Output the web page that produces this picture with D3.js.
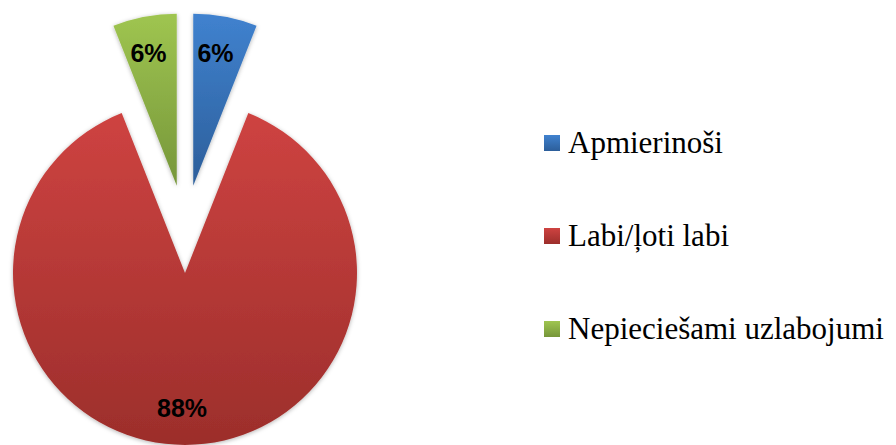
<!DOCTYPE html>
<html><head><meta charset="utf-8">
<script src="https://cdn.jsdelivr.net/npm/d3@7"></script>
<style>html,body{margin:0;padding:0;background:#fff;}svg{display:block;}</style>
</head><body>
<svg id="chart" width="896" height="445"></svg>
<script>
const categories = ["Apmierinoši", "Labi/ļoti labi", "Nepieciešami uzlabojumi"];
const values = [6, 88, 6];
const labels = ["6%", "88%", "6%"];
const colorsTop = ["#4082cf", "#ce4341", "#9fc550"];
const colorsBottom = ["#2c5e9a", "#9c2e2b", "#76963a"];

const svg = d3.select("#chart");
const cx = 185, cy = 229, R = 172, explode = 44, labelR = 135;

const defs = svg.append("defs");
categories.forEach((c, i) => {
  const g = defs.append("linearGradient").attr("id", "g" + i)
    .attr("x1", 0).attr("y1", 0).attr("x2", 0).attr("y2", 1);
  g.append("stop").attr("offset", "0%").attr("stop-color", colorsTop[i]);
  g.append("stop").attr("offset", "100%").attr("stop-color", colorsBottom[i]);
});
const f = defs.append("filter").attr("id", "sh").attr("x", "-10%").attr("y", "-10%").attr("width", "120%").attr("height", "120%");
f.append("feDropShadow").attr("dx", 0).attr("dy", 1).attr("stdDeviation", 2).attr("flood-color", "#000").attr("flood-opacity", 0.3);

const pie = d3.pie().sort(null).value(d => d)(values);
const arc = d3.arc().innerRadius(0).outerRadius(R);

const slices = svg.append("g").selectAll("g").data(pie).join("g")
  .attr("transform", d => {
    const m = (d.startAngle + d.endAngle) / 2;
    return `translate(${cx + explode * Math.sin(m)},${cy - explode * Math.cos(m)})`;
  });
slices.append("path").attr("d", arc)
  .attr("fill", (d, i) => `url(#g${i})`)
  .attr("filter", "url(#sh)");
slices.append("text")
  .attr("x", d => labelR * Math.sin((d.startAngle + d.endAngle) / 2) - 3)
  .attr("y", d => -labelR * Math.cos((d.startAngle + d.endAngle) / 2))
  .attr("dy", "0.36em")
  .attr("text-anchor", "middle")
  .style("font-family", "'Liberation Sans', Arial, sans-serif")
  .attr("font-weight", "bold").attr("font-size", 25)
  .attr("fill", "#000")
  .text((d, i) => labels[i]);

const y = d3.scalePoint().domain(categories).range([143, 329]);
const leg = svg.append("g").selectAll("g").data(categories).join("g")
  .attr("transform", d => `translate(544,${y(d)})`);
leg.append("rect").attr("x", 0).attr("y", -8).attr("width", 16).attr("height", 16)
  .attr("fill", (d, i) => `url(#g${i})`);
leg.append("text").attr("x", 24).attr("y", 10)
  .style("font-family", "'Liberation Serif', 'Times New Roman', serif")
  .attr("font-size", 31).attr("fill", "#000")
  .text(d => d);
</script>
</body></html>
